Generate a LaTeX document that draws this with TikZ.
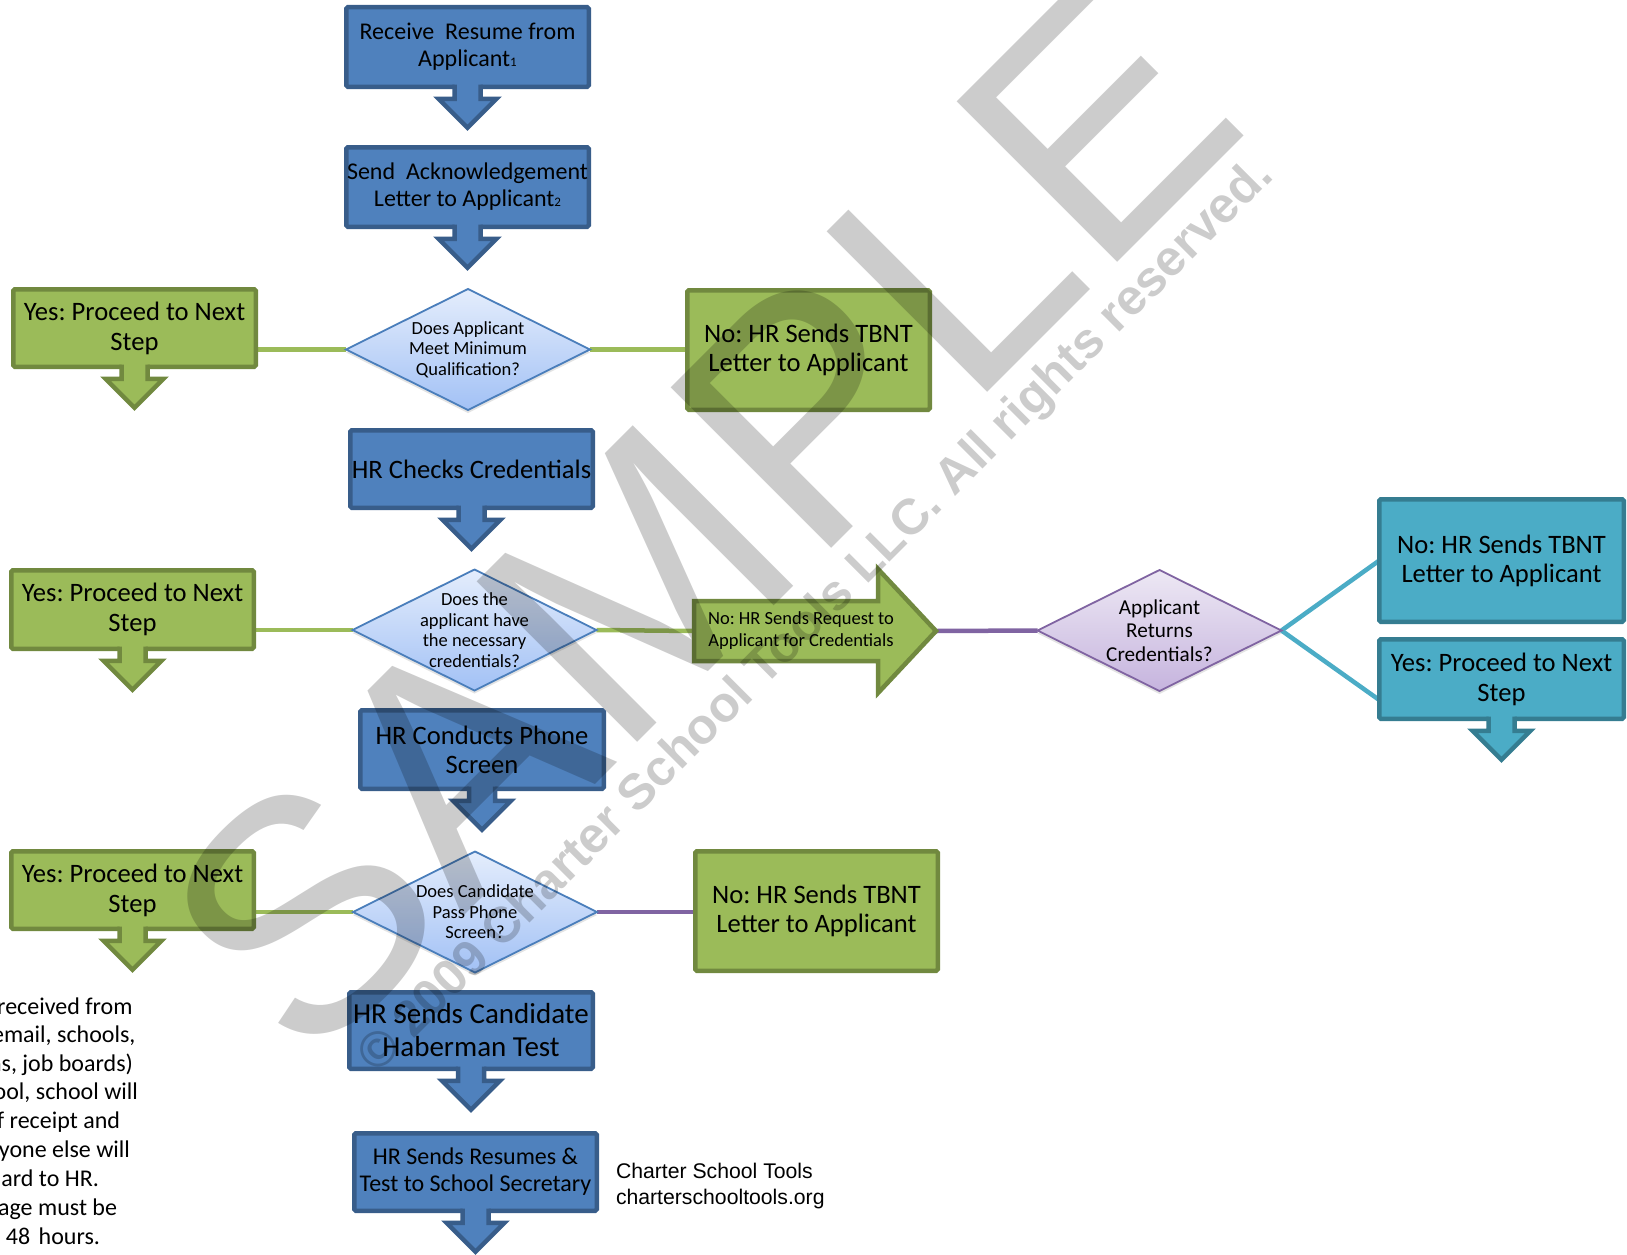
\documentclass[tikz,border=0pt]{standalone}
\usepackage{fontspec}
\setmainfont{Carlito}
\newfontfamily\arialf{Liberation Sans}
\usetikzlibrary{shapes.geometric,calc,backgrounds,shadows}
\frenchspacing
\definecolor{bfill}{HTML}{4F81BD}
\definecolor{bline}{HTML}{385D8A}
\definecolor{gfill}{HTML}{9BBB59}
\definecolor{gline}{HTML}{71893F}
\definecolor{tfill}{HTML}{4BACC6}
\definecolor{tline}{HTML}{357D91}
\definecolor{pline}{HTML}{8064A2}
\definecolor{ptop}{HTML}{EDE8F4}
\definecolor{pbot}{HTML}{C6B4DE}
\definecolor{dtop}{HTML}{E4EDFC}
\definecolor{dbot}{HTML}{A2C1F5}
\definecolor{dline}{HTML}{4A7EBB}
\newcommand\fsz[2]{\fontsize{#1}{#2}\selectfont}
\newcommand\downarr[3]{%
  \fill[#2] ($(#1.south)+(-13,-4)$) -- ($(#1.south)+(-13,12)$) -- ($(#1.south)+(-29,12)$) -- ($(#1.south)+(0,41)$) -- ($(#1.south)+(29,12)$) -- ($(#1.south)+(13,12)$) -- ($(#1.south)+(13,-4)$) -- cycle;
  \draw[#3, line width=4.5pt] ($(#1.south)+(-13,-2.2)$) -- ($(#1.south)+(-13,12)$) -- ($(#1.south)+(-29,12)$) -- ($(#1.south)+(0,41)$) -- ($(#1.south)+(29,12)$) -- ($(#1.south)+(13,12)$) -- ($(#1.south)+(13,-2.2)$);
}
\begin{document}
\begin{tikzpicture}[x=1pt,y=-1pt,
  every node/.style={inner sep=0pt, outer sep=0pt},
  box/.style={draw, line width=4.5pt, rounded corners=1.5pt, align=center, text=black},
  bluebox/.style={box, draw=bline, fill=bfill},
  greenbox/.style={box, draw=gline, fill=gfill},
  tealbox/.style={box, draw=tline, fill=tfill},
  qdiamond/.style={diamond, draw=dline, line width=1.8pt, top color=dtop, bottom color=dbot,
    minimum width=244pt, minimum height=121pt,
    drop shadow={opacity=0.22, shadow xshift=0pt, shadow yshift=-3pt}},
  pdiamond/.style={qdiamond, draw=pline, top color=ptop, bottom color=pbot},
  qtext/.style={align=center, font=\fsz{18.5}{20.5}},
  gconn/.style={draw=gfill, line width=4.5pt},
  pconn/.style={draw=pline, line width=4.5pt},
  tconn/.style={draw=tfill, line width=4.5pt},
  fn/.style={anchor=east, font=\fsz{24}{29}, text height=17pt, text depth=4pt}
]
\useasboundingbox (0,0) rectangle (1627,1255);
\clip (0,0) rectangle (1627,1255);

% main column
\node[bluebox, minimum width=242.5pt, minimum height=79.5pt, font=\fsz{24}{27}] (b1) at (467.5,47)
  {Receive\ \ Resume from\\Applicant{\fsz{13}{13}1}};
\node[bluebox, minimum width=242.5pt, minimum height=79.5pt, font=\fsz{24}{27}] (b2) at (467.5,187)
  {Send\ \ Acknowledgement\\Letter to Applicant{\fsz{13}{13}2}};
\node[qdiamond, label={[qtext]center:Does Applicant\\Meet Minimum\\Qualification?}] (d1) at (468,349.5) {};
\node[greenbox, minimum width=242.5pt, minimum height=77.5pt, font=\fsz{26.6}{30}] (y1) at (134.5,328)
  {Yes: Proceed to Next\\Step};
\node[greenbox, minimum width=242.5pt, minimum height=119.5pt, font=\fsz{26.6}{29}] (n1) at (808.5,350)
  {No: HR Sends TBNT\\Letter to Applicant};
\node[bluebox, minimum width=242.5pt, minimum height=77.5pt, font=\fsz{26.6}{29}] (b3) at (471.5,469)
  {HR Checks Credentials};
\node[qdiamond, label={[qtext]center:Does the\\applicant have\\the necessary\\credentials?}] (d2) at (474.5,630) {};
\node[greenbox, minimum width=242.5pt, minimum height=78.5pt, font=\fsz{26.6}{30}] (y2) at (132.5,609.5)
  {Yes: Proceed to Next\\Step};

% block arrow
\filldraw[fill=gfill, draw=gline, line width=4.5pt] (694,601) -- (878,601) -- (878,569) -- (936,631)
  -- (878,693) -- (878,661) -- (694,661) -- cycle;
\coordinate (reqL) at (694,631);
\coordinate (reqtip) at (936,631);
\node[align=center, font=\fsz{18.5}{21.8}] (req) at (801,630.5) {No: HR Sends Request to\\Applicant for Credentials};

\node[pdiamond, label={[align=center, font=\fsz{21.2}{23.3}]center:Applicant\\Returns\\Credentials?}] (d3) at (1159.5,630.5) {};
\node[tealbox, minimum width=244.5pt, minimum height=122.5pt, font=\fsz{26.6}{29}] (n2) at (1501.5,560.5)
  {No: HR Sends TBNT\\Letter to Applicant};
\node[tealbox, minimum width=244.5pt, minimum height=79.5pt, font=\fsz{26.6}{30}] (yt) at (1501.5,679)
  {Yes: Proceed to Next\\Step};

\node[bluebox, minimum width=243.5pt, minimum height=78.5pt, font=\fsz{26.6}{29}] (b4) at (482,749.5)
  {HR Conducts Phone\\Screen};
\node[qdiamond, label={[qtext]center:Does Candidate\\Pass Phone\\Screen?}] (d4) at (475,912) {};
\node[greenbox, minimum width=242.5pt, minimum height=77.5pt, font=\fsz{26.6}{30}] (y3) at (132.5,890)
  {Yes: Proceed to Next\\Step};
\node[greenbox, minimum width=242.5pt, minimum height=119.5pt, font=\fsz{26.6}{29}] (n3) at (816.5,911)
  {No: HR Sends TBNT\\Letter to Applicant};
\node[bluebox, minimum width=243.5pt, minimum height=76.5pt, font=\fsz{29}{33}] (b5) at (471,1030.5)
  {HR Sends Candidate\\Haberman Test};
\node[bluebox, minimum width=242.5pt, minimum height=77.5pt, font=\fsz{24}{27}] (b6) at (475.5,1172)
  {HR Sends Resumes \&\\Test to School Secretary};

% down arrows
\downarr{b1}{bfill}{bline}
\downarr{b2}{bfill}{bline}
\downarr{b3}{bfill}{bline}
\downarr{b4}{bfill}{bline}
\downarr{b5}{bfill}{bline}
\downarr{b6}{bfill}{bline}
\downarr{y1}{gfill}{gline}
\downarr{y2}{gfill}{gline}
\downarr{y3}{gfill}{gline}
\downarr{yt}{tfill}{tline}

% texts
\node[anchor=west, align=left, font=\arialf\fsz{21.2}{26}] (cst) at (616,1186.5)
  {Charter School Tools\\charterschooltools.org};
\node[fn] (f1) at (132.5,1007.5) {received from};
\node[fn] (f2) at (135.5,1036) {email, schools,};
\node[fn] (f3) at (133,1064.5) {ns, job boards)};
\node[fn] (f4) at (138,1093) {ool, school will};
\node[fn] (f5) at (120,1122) {f receipt and};
\node[fn] (f6) at (130,1151) {yone else will};
\node[fn] (f7) at (99,1180) {ard to HR.};
\node[fn] (f8) at (117,1209) {age must be};
\node[fn] (f9) at (100,1237.5) {48\hspace{3pt} hours.};

% connectors
\begin{scope}[on background layer]
\fill[white] (0,0) rectangle (1627,1255);
\draw[gconn] (d1.west) -- (d1.west -| y1.east);
\draw[gconn] (d1.east) -- (d1.east -| n1.west);
\draw[gconn] (d2.west) -- (d2.west -| y2.east);
\draw[gconn] (d2.east) -- (reqL);
\draw[gconn] (d4.west) -- (d4.west -| y3.east);
\draw[pconn] (reqtip) -- (d3.west);
\draw[pconn] (d4.east) -- (d4.east -| n3.west);
\draw[tconn] (d3.east) -- (n2.west);
\draw[tconn] (d3.east) -- ($(yt.north west)!0.764!(yt.south west)$);
\end{scope}

% watermark
\node[rotate=45, font=\arialf\fsz{330}{330}, text=black, text opacity=0.2] (wm) at (700,519) {SAMPLE};
\node[rotate=45, font=\arialf\bfseries\fsz{50}{50}, text=black, text opacity=0.2] (cr) at (817,617)
  {© 2009 Charter School Tools LLC. All rights reserved.};
\end{tikzpicture}
\end{document}
